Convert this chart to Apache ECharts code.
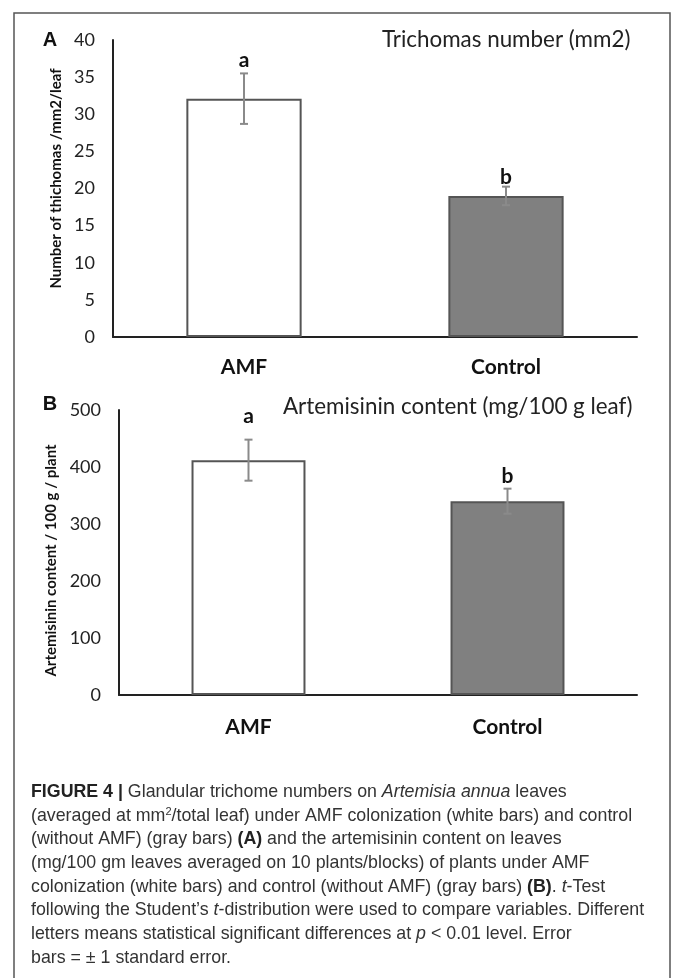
<!DOCTYPE html>
<html>
<head>
<meta charset="utf-8">
<script src="https://cdn.jsdelivr.net/npm/echarts@6/dist/echarts.min.js"></script>
<style>
html,body{margin:0;padding:0;background:#fff;}
#chart{width:673px;height:978px;}
</style>
</head>
<body>
<div id="chart"></div>
<script>
// ---- data ----
const categories = ['AMF', 'Control'];
// Panel A: trichome number (mm2)
const trichMean = [32.1, 19.0];
const trichErr = [3.4, 1.25];
const trichLetters = ['a', 'b'];
const trichLetterAt = [36.4, 20.7];
const trichAxis = { min: 0, max: 40, interval: 5 };
// Panel B: artemisinin content (mg/100 g leaf)
const artMean = [412, 340];
const artErr = [36, 22];
const artLetters = ['a', 'b'];
const artLetterAt = [477, 372];
const artAxis = { min: 0, max: 500, interval: 100 };

const titleA = 'Trichomas number (mm2)';
const titleB = 'Artemisinin content (mg/100 g leaf)';
const yNameA = 'Number of thichomas /mm2/leaf';
const yNameB = 'Artemisinin content / 100 g / plant';

const captionLines = [
  '{b|FIGURE 4 |} Glandular trichome numbers on {i|Artemisia annua} leaves',
  '(averaged at mm{sup|2}/total leaf) under AMF colonization (white bars) and control',
  '(without AMF) (gray bars) {b|(A)} and the artemisinin content on leaves',
  '(mg/100 gm leaves averaged on 10 plants/blocks) of plants under AMF',
  'colonization (white bars) and control (without AMF) (gray bars) {b|(B)}. {i|t}-Test',
  'following the Student\u2019s {i|t}-distribution were used to compare variables. Different',
  'letters means statistical significant differences at {i|p} < 0.01 level. Error',
  'bars = \u00b1 1 standard error.'
];

// ---- styles ----
const FONT = 'Lato';
const barFills = ['#ffffff', '#808080'];
const CAP_FONT = 'Liberation Sans';
const CAP_SIZE = 17.8;
const TITLE_SIZE = 22.4;

function barData(vals) {
  return vals.map((v, i) => ({ value: v, itemStyle: { color: barFills[i] } }));
}
function errData(mean, err, letterAt) {
  return mean.map((m, i) => [i, m, err[i], letterAt[i]]);
}
function makeRender(letters) {
  return function (params, api) {
    const x = api.value(0), m = api.value(1), e = api.value(2), lp = api.value(3);
    const top = api.coord([x, m + e]);
    const bot = api.coord([x, m - e]);
    const lt = api.coord([x, lp]);
    const cap = 4;
    const ls = { stroke: '#8a8a8a', lineWidth: 2 };
    return {
      type: 'group',
      children: [
        { type: 'line', shape: { x1: top[0], y1: top[1], x2: bot[0], y2: bot[1] }, style: ls },
        { type: 'line', shape: { x1: top[0] - cap, y1: top[1], x2: top[0] + cap, y2: top[1] }, style: ls },
        { type: 'line', shape: { x1: bot[0] - cap, y1: bot[1], x2: bot[0] + cap, y2: bot[1] }, style: ls },
        { type: 'text', x: lt[0], y: lt[1] + 4,
          style: { text: letters[params.dataIndex], fontFamily: FONT, fontWeight: 'bold', fontSize: 21,
                   fill: '#111', align: 'center', verticalAlign: 'bottom' } }
      ]
    };
  };
}

function yAxisCfg(ax, gridIndex, name, gap, pad) {
  return {
    type: 'value', gridIndex: gridIndex, min: ax.min, max: ax.max, interval: ax.interval,
    name: name, nameLocation: 'middle', nameGap: gap, nameRotate: 90,
    nameTextStyle: { fontFamily: FONT, fontWeight: 'bold', fontSize: 15, color: '#111', padding: pad },
    axisLine: { show: true, lineStyle: { color: '#222', width: 2 } },
    axisTick: { show: false },
    splitLine: { show: false },
    axisLabel: { fontFamily: FONT, fontSize: 18, color: '#222', margin: 18 }
  };
}
function xAxisCfg(gridIndex, margin) {
  return {
    type: 'category', gridIndex: gridIndex, data: categories,
    axisLine: { show: true, lineStyle: { color: '#222', width: 2 } },
    axisTick: { show: false },
    axisLabel: { fontFamily: FONT, fontWeight: 'bold', fontSize: 21, color: '#111', margin: margin }
  };
}

const rich = {
  b: { fontFamily: CAP_FONT, fontSize: CAP_SIZE, fontWeight: 'bold', fill: '#222', color: '#222' },
  i: { fontFamily: CAP_FONT, fontSize: CAP_SIZE, fontStyle: 'italic', fill: '#333', color: '#333' },
  sup: { fontFamily: CAP_FONT, fontSize: 11, fill: '#333', color: '#333', verticalAlign: 'top' }
};
const captionGraphics = captionLines.map((t, i) => ({
  type: 'text', x: 31, y: 792 + 23.7 * i,
  style: { text: t, rich: rich, fontFamily: CAP_FONT, fontSize: CAP_SIZE, fill: '#333',
           verticalAlign: 'middle', align: 'left' }
}));

const chart = echarts.init(document.getElementById('chart'), null, { renderer: 'canvas' });
chart.setOption({
  backgroundColor: '#ffffff',
  animation: false,
  title: [
    { text: titleA, left: 382, top: 29, padding: 0,
      textStyle: { fontFamily: FONT, fontSize: TITLE_SIZE, fontWeight: 'normal', color: '#222' } },
    { text: titleB, left: 283, top: 396, padding: 0,
      textStyle: { fontFamily: FONT, fontSize: TITLE_SIZE, fontWeight: 'normal', color: '#222' } }
  ],
  grid: [
    { left: 113, top: 40, width: 524, height: 297 },
    { left: 119, top: 410, width: 518, height: 285 }
  ],
  xAxis: [xAxisCfg(0, 20), xAxisCfg(1, 22)],
  yAxis: [
    yAxisCfg(trichAxis, 0, yNameA, 39, [0, 0, 0, 20]),
    yAxisCfg(artAxis, 1, yNameB, 51, [0, 16, 0, 0])
  ],
  series: [
    { type: 'bar', xAxisIndex: 0, yAxisIndex: 0, data: barData(trichMean), barWidth: '44%',
      itemStyle: { borderColor: '#555', borderWidth: 2 } },
    { type: 'custom', xAxisIndex: 0, yAxisIndex: 0, data: errData(trichMean, trichErr, trichLetterAt),
      renderItem: makeRender(trichLetters), z: 5 },
    { type: 'bar', xAxisIndex: 1, yAxisIndex: 1, data: barData(artMean), barWidth: '44%',
      itemStyle: { borderColor: '#555', borderWidth: 2 } },
    { type: 'custom', xAxisIndex: 1, yAxisIndex: 1, data: errData(artMean, artErr, artLetterAt),
      renderItem: makeRender(artLetters), z: 5 }
  ],
  graphic: [
    { type: 'rect', shape: { x: 14, y: 13, width: 656, height: 1000 },
      style: { fill: 'none', stroke: '#555', lineWidth: 1.5 }, z: -10 },
    { type: 'text', x: 50, y: 40, style: { text: 'A', fontFamily: 'Liberation Sans', fontWeight: 'bold',
      fontSize: 20, fill: '#111', align: 'center', verticalAlign: 'middle' } },
    { type: 'text', x: 50, y: 404, style: { text: 'B', fontFamily: 'Liberation Sans', fontWeight: 'bold',
      fontSize: 20, fill: '#111', align: 'center', verticalAlign: 'middle' } }
  ].concat(captionGraphics)
});
</script>
</body>
</html>
